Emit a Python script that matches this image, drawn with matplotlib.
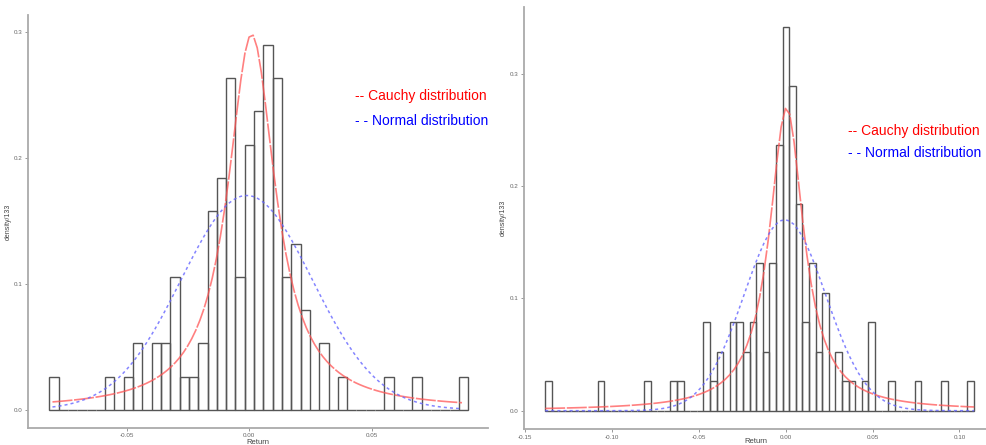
import matplotlib
matplotlib.use("Agg")
import matplotlib.pyplot as plt
import numpy as np

plt.rcParams['font.family'] = ['Liberation Sans', 'DejaVu Sans']

# ---- data ----
bin_width = 0.0038
y_per_count = 0.0263

# left panel: 45 bins starting at -0.0816
left_start = -0.0816
left_counts = [1, 0, 0, 0, 0, 0, 1, 0, 1, 2,
               0, 2, 2, 4, 1, 1, 2, 6, 7, 10,
               4, 8, 9, 11, 10, 4, 5, 3, 0, 2,
               0, 1, 0, 0, 0, 0, 1, 0, 0, 1,
               0, 0, 0, 0, 1]
# fitted curves (peak height, location, scale) and drawn range
left_cauchy = (0.298, 0.001, 0.0118)
left_normal = (0.170, -0.001, 0.0268)
left_range = (-0.0803, 0.0869)

# right panel: 65 bins starting at -0.1386
right_start = -0.1386
right_counts = [1, 0, 0, 0, 0, 0, 0, 0, 1, 0,
                0, 0, 0, 0, 0, 1, 0, 0, 0, 1,
                1, 0, 0, 0, 3, 1, 2, 0, 3, 3,
                2, 3, 5, 2, 5, 9, 13, 11, 7, 3,
                5, 2, 4, 0, 2, 1, 1, 0, 1, 3,
                0, 0, 1, 0, 0, 0, 1, 0, 0, 0,
                1, 0, 0, 0, 1]
right_cauchy = (0.270, 0.0005, 0.0120)
right_normal = (0.170, -0.0005, 0.0235)
right_range = (-0.1385, 0.1085)

left_xticks = [-0.05, 0.00, 0.05]
right_xticks = [-0.15, -0.10, -0.05, 0.00, 0.05, 0.10]
left_yticks = [0.0, 0.1, 0.2, 0.3]
right_yticks = [0.0, 0.1, 0.2, 0.3]

legend_labels = ["-- Cauchy distribution", "- - Normal distribution"]


def panel(ax, start, counts, cauchy, normal, xr, xticks, yticks, xlim, ylim,
          ylab_x, xlab_y):
    counts = np.array(counts)
    edges = start + bin_width * np.arange(len(counts))
    ax.bar(edges, counts * y_per_count, width=bin_width, align='edge',
           fill=False, edgecolor='#555555', linewidth=1.0)

    x = np.linspace(xr[0], xr[1], 101)
    pk, loc, g = cauchy
    ax.plot(x, pk / (1 + ((x - loc) / g) ** 2), color='#ff5555', alpha=0.75,
            lw=1.2, dashes=(12, 1))
    pk, loc, s = normal
    ax.plot(x, pk * np.exp(-0.5 * ((x - loc) / s) ** 2), color='#6666ff',
            alpha=0.8, lw=1.1, dashes=(2, 2))

    ax.set_xlim(*xlim)
    ax.set_ylim(*ylim)
    ax.set_xticks(xticks)
    ax.set_xticklabels([f"{t:.2f}" for t in xticks])
    ax.set_yticks(yticks)
    ax.set_yticklabels([f"{t:.1f}" for t in yticks])
    ax.tick_params(labelsize=4.5, colors='#888888', labelcolor='#666666',
                   length=2, width=0.6, pad=2)
    for side in ['top', 'right']:
        ax.spines[side].set_visible(False)
    for side in ['left', 'bottom']:
        ax.spines[side].set_color('#aaaaaa')
        ax.spines[side].set_linewidth(1.3)
    ax.set_xlabel("Return", fontsize=5.5, color='#444444')
    ax.xaxis.set_label_coords(0.5, xlab_y)
    ax.set_ylabel("density/133", fontsize=5, color='#444444')
    ax.yaxis.set_label_coords(ylab_x, 0.5)


fig = plt.figure(figsize=(9.87, 4.45), dpi=100)

ax1 = fig.add_axes([0.0281, 0.0389, 0.4663, 0.9274])
panel(ax1, left_start, left_counts, left_cauchy, left_normal, left_range,
      left_xticks, left_yticks, (-0.0904, 0.0975), (-0.0143, 0.3132),
      -0.034, -0.027)

ax2 = fig.add_axes([0.5312, 0.0360, 0.4685, 0.9476])
panel(ax2, right_start, right_counts, right_cauchy, right_normal, right_range,
      right_xticks, right_yticks, (-0.1505, 0.1157), (-0.0163, 0.3592),
      -0.037, -0.021)

# hand-placed legends
fig.text(0.3597, 0.784, legend_labels[0], color='red', fontsize=10, va='center')
fig.text(0.3597, 0.728, legend_labels[1], color='blue', fontsize=10, va='center')
fig.text(0.859, 0.7056, legend_labels[0], color='red', fontsize=10, va='center')
fig.text(0.859, 0.656, legend_labels[1], color='blue', fontsize=10, va='center')

fig.savefig("out.png", dpi=100)
